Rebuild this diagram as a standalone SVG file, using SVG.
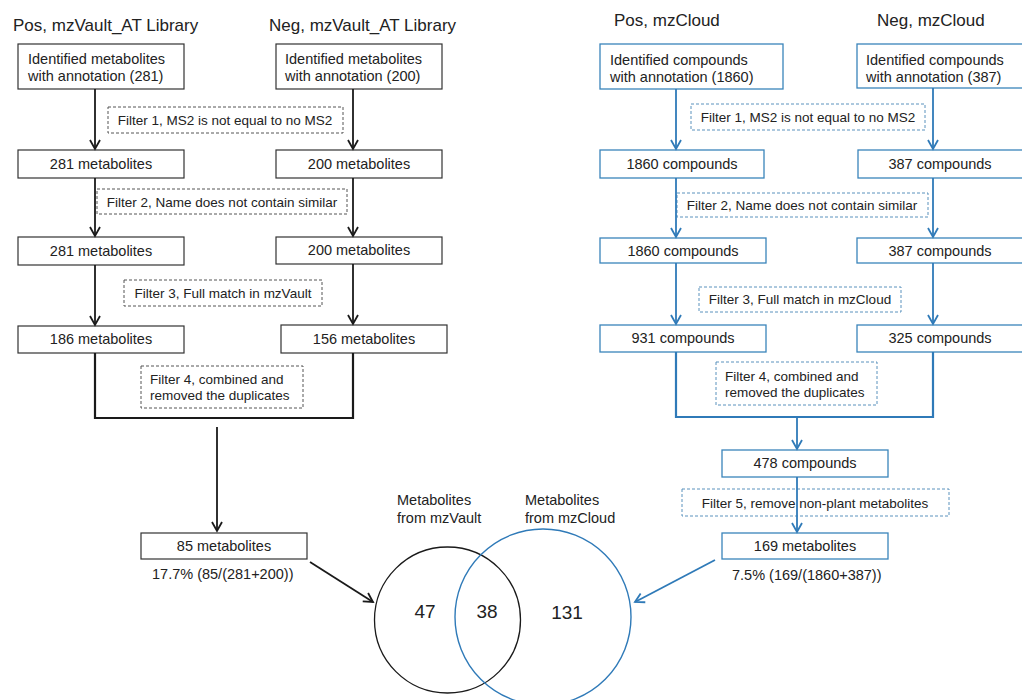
<svg xmlns="http://www.w3.org/2000/svg" width="1022" height="700" viewBox="0 0 1022 700">
<defs>
<style>
text{font-family:"Liberation Sans",Arial,Helvetica,sans-serif;fill:#222;}
.t{font-size:17px;}
.n{font-size:14.5px;}
.f{font-size:13.5px;}
.v{font-size:19px;}
.m{text-anchor:middle;}
.bk{fill:#fff;stroke:#333;stroke-width:1.2;}
.bb{fill:#fff;stroke:#3a84bb;stroke-width:1.3;}
.dk{fill:none;stroke:#555;stroke-width:1;stroke-dasharray:3 2;}
.db{fill:none;stroke:#5a92bd;stroke-width:1;stroke-dasharray:3 2;}
.ck{fill:none;stroke:#1a1a1a;stroke-width:1.8;}
.cb{fill:none;stroke:#2f7ab8;stroke-width:1.8;}
.brk{fill:none;stroke:#1a1a1a;stroke-width:2.2;}
.brb{fill:none;stroke:#2f7ab8;stroke-width:2.2;}
</style>
<marker id="ak" viewBox="-11 -7 13 14" refX="0" refY="0" markerWidth="13" markerHeight="14" markerUnits="userSpaceOnUse" orient="auto">
<path d="M-9,-5 L0,0 L-9,5" fill="none" stroke="#1a1a1a" stroke-width="1.8"/>
</marker>
<marker id="ab" viewBox="-11 -7 13 14" refX="0" refY="0" markerWidth="13" markerHeight="14" markerUnits="userSpaceOnUse" orient="auto">
<path d="M-9,-5 L0,0 L-9,5" fill="none" stroke="#2f7ab8" stroke-width="1.8"/>
</marker>
</defs>
<rect width="1022" height="700" fill="#fff"/>

<!-- titles -->
<g id="titles">
<text class="t" x="13" y="31">Pos, mzVault_AT Library</text>
<text class="t" x="269" y="31">Neg, mzVault_AT Library</text>
<text class="t" x="614" y="26">Pos, mzCloud</text>
<text class="t" x="877" y="26">Neg, mzCloud</text>
</g>

<!-- filters (dashed) -->
<g id="filter-l1"><rect class="dk" x="108" y="107" width="235" height="26"/><text class="f m" x="225" y="125">Filter 1, MS2 is not equal to no MS2</text></g>
<g id="filter-l2"><rect class="dk" x="97" y="189" width="250" height="25"/><text class="f m" x="222" y="207">Filter 2, Name does not contain similar</text></g>
<g id="filter-l3"><rect class="dk" x="124" y="280" width="198" height="26"/><text class="f m" x="223" y="298">Filter 3, Full match in mzVault</text></g>
<g id="filter-l4"><rect class="dk" x="141" y="366" width="162" height="42"/><text class="f" x="150" y="384">Filter 4, combined and</text><text class="f" x="150" y="400">removed the duplicates</text></g>

<g id="filter-r1"><rect class="db" x="691" y="104" width="234" height="26"/><text class="f m" x="808" y="122">Filter 1, MS2 is not equal to no MS2</text></g>
<g id="filter-r2"><rect class="db" x="677" y="193" width="251" height="24"/><text class="f m" x="802" y="210">Filter 2, Name does not contain similar</text></g>
<g id="filter-r3"><rect class="db" x="699" y="287" width="202" height="25"/><text class="f m" x="800" y="304">Filter 3, Full match in mzCloud</text></g>
<g id="filter-r4"><rect class="db" x="716" y="362" width="161" height="43"/><text class="f" x="725" y="381">Filter 4, combined and</text><text class="f" x="725" y="397">removed the duplicates</text></g>
<g id="filter-r5"><rect class="db" x="682" y="489" width="267" height="27"/><text class="f m" x="815" y="508">Filter 5, remove non-plant metabolites</text></g>

<!-- left nodes -->
<g id="pos-vault-start"><rect class="bk" x="18" y="44" width="166" height="45"/><text class="n" x="28" y="64">Identified metabolites</text><text class="n" x="28" y="81">with annotation (281)</text></g>
<g id="neg-vault-start"><rect class="bk" x="276" y="44" width="166" height="45"/><text class="n" x="285" y="64">Identified metabolites</text><text class="n" x="285" y="81">with annotation (200)</text></g>
<g id="pos-vault-f1"><rect class="bk" x="18" y="150" width="166" height="28"/><text class="n m" x="101" y="169">281 metabolites</text></g>
<g id="neg-vault-f1"><rect class="bk" x="276" y="150" width="166" height="28"/><text class="n m" x="359" y="169">200 metabolites</text></g>
<g id="pos-vault-f2"><rect class="bk" x="18" y="237" width="166" height="28"/><text class="n m" x="101" y="256">281 metabolites</text></g>
<g id="neg-vault-f2"><rect class="bk" x="276" y="237" width="166" height="27"/><text class="n m" x="359" y="255">200 metabolites</text></g>
<g id="pos-vault-f3"><rect class="bk" x="18" y="326" width="166" height="27"/><text class="n m" x="101" y="344">186 metabolites</text></g>
<g id="neg-vault-f3"><rect class="bk" x="281" y="325" width="166" height="28"/><text class="n m" x="364" y="344">156 metabolites</text></g>
<g id="vault-result"><rect class="bk" x="141" y="533" width="166" height="26"/><text class="n m" x="224" y="551">85 metabolites</text><text class="n" x="152" y="579">17.7% (85/(281+200))</text></g>

<!-- right nodes -->
<g id="pos-cloud-start"><rect class="bb" x="600" y="44" width="183" height="45"/><text class="n" x="610" y="65">Identified compounds</text><text class="n" x="610" y="82">with annotation (1860)</text></g>
<g id="neg-cloud-start"><rect class="bb" x="857" y="44" width="170" height="44"/><text class="n" x="866" y="65">Identified compounds</text><text class="n" x="866" y="82">with annotation (387)</text></g>
<g id="pos-cloud-f1"><rect class="bb" x="600" y="150" width="164" height="28"/><text class="n m" x="682" y="169">1860 compounds</text></g>
<g id="neg-cloud-f1"><rect class="bb" x="858" y="150" width="170" height="28"/><text class="n m" x="940" y="169">387 compounds</text></g>
<g id="pos-cloud-f2"><rect class="bb" x="600" y="238" width="166" height="25"/><text class="n m" x="683" y="256">1860 compounds</text></g>
<g id="neg-cloud-f2"><rect class="bb" x="857" y="238" width="170" height="25"/><text class="n m" x="940" y="256">387 compounds</text></g>
<g id="pos-cloud-f3"><rect class="bb" x="600" y="325" width="166" height="27"/><text class="n m" x="683" y="343">931 compounds</text></g>
<g id="neg-cloud-f3"><rect class="bb" x="857" y="325" width="170" height="27"/><text class="n m" x="940" y="343">325 compounds</text></g>
<g id="cloud-combined"><rect class="bb" x="722" y="450" width="166" height="27"/><text class="n m" x="805" y="468">478 compounds</text></g>
<g id="cloud-result"><rect class="bb" x="722" y="533" width="166" height="26"/><text class="n m" x="805" y="551">169 metabolites</text><text class="n" x="732" y="580">7.5% (169/(1860+387))</text></g>

<!-- venn -->
<g id="venn-vault"><circle cx="447.5" cy="620" r="73" fill="none" stroke="#1a1a1a" stroke-width="1.3"/><text class="n" x="397" y="505">Metabolites</text><text class="n" x="397" y="523">from mzVault</text><text class="v m" x="425" y="618">47</text></g>
<g id="venn-cloud"><circle cx="543" cy="617" r="88" fill="none" stroke="#2f7ab8" stroke-width="1.4"/><text class="n" x="525" y="505">Metabolites</text><text class="n" x="525" y="523">from mzCloud</text><text class="v m" x="487" y="618">38</text><text class="v m" x="567" y="619">131</text></g>

<!-- connectors -->
<g id="connectors">
<line class="ck" x1="95" y1="89" x2="95" y2="149" marker-end="url(#ak)"/>
<line class="ck" x1="353" y1="89" x2="353" y2="149" marker-end="url(#ak)"/>
<line class="ck" x1="95" y1="178" x2="95" y2="236" marker-end="url(#ak)"/>
<line class="ck" x1="353" y1="178" x2="353" y2="236" marker-end="url(#ak)"/>
<line class="ck" x1="95" y1="265" x2="95" y2="325" marker-end="url(#ak)"/>
<line class="ck" x1="353" y1="264" x2="353" y2="324" marker-end="url(#ak)"/>
<polyline class="brk" points="95,353 95,418 353,418 353,353"/>
<line class="ck" x1="217" y1="427" x2="217" y2="531" marker-end="url(#ak)"/>
<line class="ck" x1="310" y1="562" x2="373" y2="602" marker-end="url(#ak)"/>

<line class="cb" x1="676" y1="89" x2="676" y2="149" marker-end="url(#ab)"/>
<line class="cb" x1="933" y1="88" x2="933" y2="149" marker-end="url(#ab)"/>
<line class="cb" x1="676" y1="178" x2="676" y2="237" marker-end="url(#ab)"/>
<line class="cb" x1="933" y1="178" x2="933" y2="237" marker-end="url(#ab)"/>
<line class="cb" x1="676" y1="263" x2="676" y2="324" marker-end="url(#ab)"/>
<line class="cb" x1="933" y1="263" x2="933" y2="324" marker-end="url(#ab)"/>
<polyline class="brb" points="676,352 676,417 933,417 933,352"/>
<line class="cb" x1="797" y1="417" x2="797" y2="449" marker-end="url(#ab)"/>
<line class="cb" x1="797" y1="477" x2="797" y2="532" marker-end="url(#ab)"/>
<line class="cb" x1="715" y1="560" x2="635" y2="602" marker-end="url(#ab)"/>
</g>
</svg>
